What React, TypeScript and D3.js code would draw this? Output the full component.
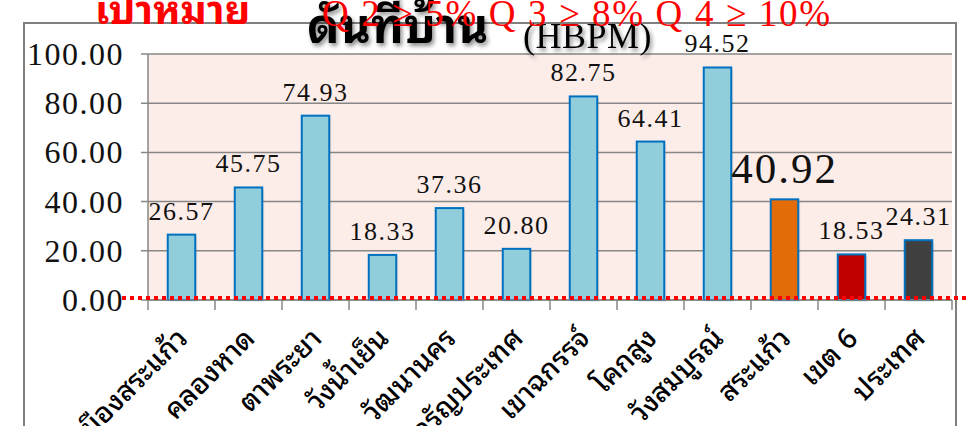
import React from "react";
import * as d3 from "d3";

const categories = [
  "เมืองสระแก้ว",
  "คลองหาด",
  "ตาพระยา",
  "วังน้ำเย็น",
  "วัฒนานคร",
  "อรัญประเทศ",
  "เขาฉกรรจ์",
  "โคกสูง",
  "วังสมบูรณ์",
  "สระแก้ว",
  "เขต 6",
  "ประเทศ",
];
const values = [26.57, 45.75, 74.93, 18.33, 37.36, 20.8, 82.75, 64.41, 94.52, 40.92, 18.53, 24.31];
const yTicks = [0, 20, 40, 60, 80, 100];
const titleThai = "ดันที่บ้าน";
const titleLatin = "(HBPM)";
const targetLabel = "เป้าหมาย";
const targetText = "Q 2 ≥ 5% Q 3 ≥ 8% Q 4 ≥ 10%";

const W = 970;
const H = 426;
const plotLeft = 148;
const plotRight = 952;
const plotTop = 54;
const plotBottom = 300;

const barFill = (i: number) =>
  i === 9 ? "#E36C09" : i === 10 ? "#C00000" : i === 11 ? "#404040" : "#92CDDC";

const serif = "'Liberation Serif', 'DejaVu Serif', serif";
const thai = "'Noto Sans Thai Looped', 'Noto Sans Thai', 'Noto Sans', 'DejaVu Sans', sans-serif";

export default function App() {
  const x = d3.scaleBand<string>().domain(categories).range([plotLeft, plotRight]).padding(0);
  const y = d3.scaleLinear().domain([0, 100]).range([plotBottom, plotTop]);
  const bw = x.bandwidth();
  const barW = 27.5;

  return (
    <svg
      width={W}
      height={H}
      style={{ position: "absolute", left: 0, top: 0, background: "#fff" }}
    >
      <defs>
        <filter id="shadow" x="-10%" y="-30%" width="130%" height="180%">
          <feDropShadow dx="2" dy="3" stdDeviation="2" floodColor="#000" floodOpacity="0.45" />
        </filter>
      </defs>
      {/* outer frame */}
      <rect x={24} y={23} width={932} height={H} fill="#fff" stroke="#7F7F7F" strokeWidth={2} />
      {/* plot background */}
      <rect x={plotLeft} y={plotTop} width={plotRight - plotLeft} height={plotBottom - plotTop} fill="#FCEDE9" />
      {/* gridlines and y ticks */}
      {yTicks.map((t) => (
        <g key={t}>
          <line x1={plotLeft - 7} x2={plotRight} y1={y(t)} y2={y(t)} stroke="#878787" strokeWidth={1.5} />
          <text
            x={124}
            y={y(t) + 11}
            textAnchor="end"
            fontFamily={serif}
            fontSize={32}
            letterSpacing={1.5}
            fill="#111"
          >
            {t.toFixed(2)}
          </text>
        </g>
      ))}
      {/* left axis */}
      <line x1={plotLeft} x2={plotLeft} y1={plotTop} y2={plotBottom + 10} stroke="#878787" strokeWidth={1.5} />
      {/* category ticks */}
      {categories.map((c, i) => (
        <line
          key={"tk" + i}
          x1={(x(c) as number) + bw}
          x2={(x(c) as number) + bw}
          y1={plotBottom}
          y2={plotBottom + 10}
          stroke="#878787"
          strokeWidth={1.5}
        />
      ))}
      {/* bars */}
      {values.map((v, i) => {
        const cx = (x(categories[i]) as number) + bw / 2;
        return (
          <g key={"b" + i}>
            <rect x={cx - barW / 2 + 2} y={y(v) + 2} width={barW} height={plotBottom - y(v)} fill="#000" opacity={0.08} />
            <rect
              x={cx - barW / 2}
              y={y(v)}
              width={barW}
              height={plotBottom - y(v)}
              fill={barFill(i)}
              stroke="#0070C0"
              strokeWidth={2}
            />
          </g>
        );
      })}
      {/* zero axis */}
      <line x1={plotLeft} x2={plotRight} y1={plotBottom} y2={plotBottom} stroke="#878787" strokeWidth={1.5} />
      {/* target dotted line */}
      <line x1={122} x2={W} y1={298} y2={298} stroke="#FF0000" strokeWidth={4} strokeDasharray="4 4" />
      {/* data labels */}
      {values.map((v, i) => {
        const cx = (x(categories[i]) as number) + bw / 2;
        const big = i === 9;
        return (
          <text
            key={"l" + i}
            x={cx}
            y={y(v) - (big ? 16 : 15)}
            textAnchor="middle"
            fontFamily={serif}
            fontSize={big ? 43 : 26}
            letterSpacing={big ? 2 : 1.5}
            fill="#111"
          >
            {v.toFixed(2)}
          </text>
        );
      })}
      {/* x labels */}
      {categories.map((c, i) => {
        const ax = (x(c) as number) + bw / 2 + 8;
        const ay = 340;
        return (
          <text
            key={"x" + i}
            x={ax}
            y={ay}
            transform={`rotate(-45 ${ax} ${ay})`}
            textAnchor="end"
            fontFamily={thai}
            fontSize={28}
            fontWeight={500}
            fill="#000"
          >
            {c}
          </text>
        );
      })}
      {/* title */}
      <g filter="url(#shadow)">
        <text x={307} y={43} fontFamily={thai} fontWeight="bold" fontSize={48} fill="#000">
          {titleThai}
        </text>
        <text x={523} y={48} fontFamily={serif} fontSize={36} letterSpacing={0.5} fill="#000">
          {titleLatin}
        </text>
      </g>
      {/* target annotation */}
      <text x={95} y={24} fontFamily={thai} fontWeight="bold" fontSize={40} fill="#FF0000">
        {targetLabel}
      </text>
      <text
        x={322}
        y={26}
        fontFamily={serif}
        fontSize={37}
        fill="#FF0000"
        textLength={508}
        lengthAdjust="spacing"
      >
        {targetText}
      </text>
    </svg>
  );
}
